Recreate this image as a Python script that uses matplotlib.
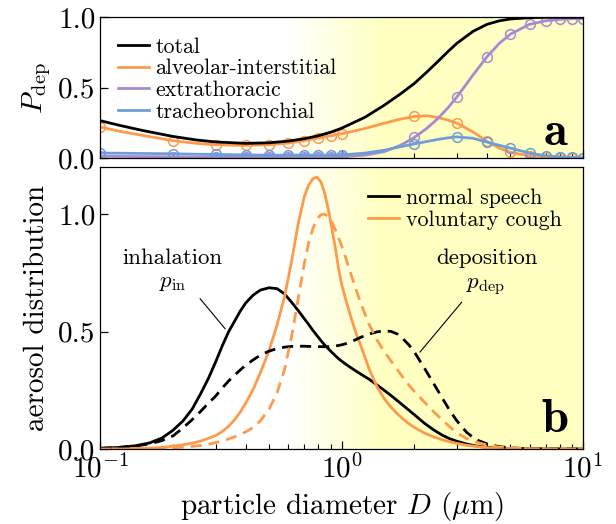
import numpy as np
import matplotlib
matplotlib.use("Agg")
import matplotlib.pyplot as plt
from matplotlib.lines import Line2D

plt.rcParams['font.family'] = ['cmr10', 'DejaVu Serif']
plt.rcParams['mathtext.fontset'] = 'cm'
plt.rcParams['axes.formatter.use_mathtext'] = True
plt.rcParams['axes.unicode_minus'] = False

# =========================
# Dados
# =========================

# deposition probability per region (top panel)
d_dep = [0.1, 0.12, 0.15, 0.2, 0.25, 0.3, 0.4, 0.5, 0.6, 0.7, 0.8, 0.9, 1.0,
         1.25, 1.5, 1.75, 2.0, 2.25, 2.5, 2.75, 3.0, 3.5, 4.0, 4.5, 5.0, 6.0,
         7.0, 8.0, 9.0, 10.0]
d_marcas = [0.1, 0.2, 0.3, 0.4, 0.5, 0.6, 0.7, 0.8, 0.9, 1.0, 2.0, 3.0, 4.0,
            5.0, 6.0, 7.0, 8.0, 9.0, 10.0]

p_total = [0.265, 0.232, 0.195, 0.153, 0.128, 0.114, 0.104, 0.108, 0.12,
           0.137, 0.158, 0.183, 0.212, 0.29, 0.375, 0.455, 0.53, 0.61, 0.685,
           0.755, 0.815, 0.9, 0.95, 0.975, 0.988, 0.997, 1.0, 1.0, 1.0, 1.0]
p_alveolar = [0.22, 0.19, 0.16, 0.123, 0.104, 0.094, 0.089, 0.094, 0.106,
              0.123, 0.142, 0.158, 0.172, 0.21, 0.247, 0.276, 0.295, 0.3,
              0.288, 0.27, 0.248, 0.185, 0.118, 0.07, 0.04, 0.015, 0.006,
              0.003, 0.001, 0.0]
p_extra = [0.012, 0.011, 0.01, 0.008, 0.007, 0.007, 0.006, 0.006, 0.006,
           0.006, 0.006, 0.006, 0.009, 0.02, 0.045, 0.09, 0.146, 0.21, 0.28,
           0.355, 0.433, 0.59, 0.72, 0.815, 0.88, 0.95, 0.975, 0.985, 0.99,
           0.99]
p_traqueo = [0.035, 0.034, 0.032, 0.03, 0.027, 0.025, 0.022, 0.02, 0.02,
             0.02, 0.02, 0.02, 0.022, 0.035, 0.055, 0.08, 0.10, 0.117, 0.132,
             0.143, 0.15, 0.14, 0.113, 0.09, 0.07, 0.035, 0.015, 0.008,
             0.004, 0.002]

# size distributions (bottom panel)
d_dist = [0.1, 0.12, 0.14, 0.16, 0.18, 0.2, 0.22, 0.24, 0.26, 0.28, 0.3, 0.32,
          0.34, 0.36, 0.38, 0.4, 0.43, 0.46, 0.5, 0.54, 0.58, 0.62, 0.66, 0.7,
          0.73, 0.76, 0.79, 0.82, 0.85, 0.88, 0.91, 0.94, 0.97, 1.0, 1.05,
          1.1, 1.15, 1.2, 1.3, 1.4, 1.5, 1.6, 1.7, 1.8, 1.9, 2.0, 2.2, 2.4,
          2.6, 2.8, 3.0, 3.3, 3.6, 4.0, 4.5, 5.0, 6.0, 8.0, 10.0]

fala_in = [0.003, 0.007, 0.014, 0.026, 0.047, 0.08, 0.12, 0.17, 0.235, 0.3,
           0.37, 0.44, 0.5, 0.545, 0.588, 0.622, 0.656, 0.677, 0.687, 0.683,
           0.66, 0.625, 0.59, 0.555, 0.53, 0.505, 0.483, 0.462, 0.443, 0.427,
           0.412, 0.398, 0.385, 0.374, 0.358, 0.344, 0.331, 0.319, 0.297,
           0.273, 0.25, 0.228, 0.206, 0.185, 0.165, 0.146, 0.11, 0.082, 0.06,
           0.044, 0.033, 0.021, 0.013, 0.007, 0.003, 0.002, 0.0005, 0.0, 0.0]
fala_dep = [0.003, 0.007, 0.013, 0.022, 0.036, 0.056, 0.09, 0.125, 0.16,
            0.195, 0.225, 0.26, 0.29, 0.315, 0.337, 0.357, 0.38, 0.4, 0.417,
            0.428, 0.434, 0.437, 0.438, 0.438, 0.437, 0.437, 0.436, 0.436,
            0.436, 0.436, 0.437, 0.439, 0.441, 0.444, 0.45, 0.458, 0.467,
            0.476, 0.49, 0.499, 0.503, 0.501, 0.49, 0.468, 0.443, 0.413,
            0.345, 0.28, 0.22, 0.165, 0.12, 0.07, 0.04, 0.022, 0.01, 0.005,
            0.001, 0.0, 0.0]
tosse_in = [0.0, 0.001, 0.002, 0.004, 0.007, 0.012, 0.018, 0.025, 0.034,
            0.045, 0.057, 0.075, 0.097, 0.125, 0.158, 0.195, 0.255, 0.325,
            0.42, 0.53, 0.65, 0.8, 0.96, 1.075, 1.125, 1.152, 1.158, 1.138,
            1.09, 1.02, 0.94, 0.86, 0.77, 0.7, 0.62, 0.55, 0.49, 0.44, 0.34,
            0.265, 0.215, 0.178, 0.15, 0.127, 0.107, 0.092, 0.068, 0.052,
            0.04, 0.031, 0.024, 0.016, 0.011, 0.006, 0.003, 0.002, 0.001,
            0.0, 0.0]
tosse_dep = [0.0, 0.0, 0.001, 0.002, 0.003, 0.005, 0.008, 0.011, 0.015, 0.02,
             0.027, 0.035, 0.043, 0.052, 0.062, 0.073, 0.092, 0.12, 0.17,
             0.24, 0.34, 0.48, 0.64, 0.79, 0.88, 0.94, 0.98, 0.998, 1.0, 0.99,
             0.968, 0.935, 0.9, 0.865, 0.8, 0.735, 0.675, 0.62, 0.53, 0.465,
             0.415, 0.375, 0.338, 0.303, 0.272, 0.245, 0.2, 0.16, 0.125,
             0.095, 0.068, 0.045, 0.03, 0.017, 0.008, 0.004, 0.001, 0.0, 0.0]

PRETO = 'black'
LARANJA = '#ff9a4c'
ROXO = '#a98ad2'
AZUL = '#6d9fd6'
AMARELO = (1.0, 1.0, 0.76)


def fundo_amarelo(ax):
    # fade from white to yellow between ~0.6 and ~1.5 um
    frac = np.linspace(0, 1, 600)
    f0 = (np.log10(0.6) + 1) / 2
    f1 = (np.log10(1.5) + 1) / 2
    alpha = np.clip((frac - f0) / (f1 - f0), 0, 1)
    img = np.ones((1, frac.size, 4))
    img[0, :, 0] = AMARELO[0]
    img[0, :, 1] = AMARELO[1]
    img[0, :, 2] = AMARELO[2]
    img[0, :, 3] = alpha
    ax.imshow(img, extent=(0, 1, 0, 1), transform=ax.transAxes,
              aspect='auto', zorder=0, interpolation='bilinear')


def estilo_eixo(ax):
    ax.set_xscale('log')
    ax.set_xlim(0.1, 10)
    ax.tick_params(which='both', direction='in', top=False, right=False,
                   labelsize=21)
    ax.tick_params(which='major', length=6, width=0.9)
    ax.tick_params(which='minor', length=3.3, width=0.8)
    for s in ax.spines.values():
        s.set_linewidth(0.9)


def legenda(ax, cores, nomes, ancora):
    alcas = [Line2D([], [], color=c, lw=2.0) for c in cores]
    ax.legend(alcas, nomes, loc='upper left', bbox_to_anchor=ancora,
              frameon=False, fontsize=15.8, handlelength=1.4,
              handletextpad=0.3, labelspacing=0.1, borderpad=0,
              borderaxespad=0)


fig = plt.figure(figsize=(6.16, 5.24), dpi=100)

# =========================
# Painel a
# =========================
ax1 = fig.add_axes([0.163, 0.6985, 0.7835, 0.2685])
fundo_amarelo(ax1)
estilo_eixo(ax1)

marcados = [d_dep.index(d) for d in d_marcas]
kw = dict(lw=2.0, marker='o', markevery=marcados, markersize=7,
          markerfacecolor='none', markeredgewidth=1.1)
ax1.plot(d_dep, p_total, color=PRETO, lw=2.0, zorder=5)
ax1.plot(d_dep, p_alveolar, color=LARANJA, **kw)
ax1.plot(d_dep, p_extra, color=ROXO, **kw)
ax1.plot(d_dep, p_traqueo, color=AZUL, **kw)

ax1.set_xlim(0.1, 10)
ax1.set_ylim(0, 1)
ax1.set_yticks([0, 0.5, 1.0])
ax1.set_yticklabels(['0.0', '0.5', '1.0'])
ax1.tick_params(labelbottom=False)
ax1.set_ylabel(r'$P_{\rm dep}$', fontsize=21, labelpad=4)

legenda(ax1, [PRETO, LARANJA, ROXO, AZUL],
        ['total', 'alveolar-interstitial', 'extrathoracic',
         'tracheobronchial'], (0.037, 0.86))
ax1.text(0.943, 0.092, 'a', transform=ax1.transAxes, ha='center',
         va='baseline', fontsize=35, family='cmb10')

# =========================
# Painel b
# =========================
ax2 = fig.add_axes([0.163, 0.1431, 0.7835, 0.5376])
fundo_amarelo(ax2)
estilo_eixo(ax2)

ax2.plot(d_dist, fala_in, color=PRETO, lw=2.0)
ax2.plot(d_dist, tosse_in, color=LARANJA, lw=2.0)
ax2.plot(d_dist, fala_dep, color=PRETO, lw=2.0, dashes=(4, 2.5))
ax2.plot(d_dist, tosse_dep, color=LARANJA, lw=2.0, dashes=(4, 2.5))

ax2.set_xlim(0.1, 10)
ax2.set_ylim(0, 1.2)
ax2.set_yticks([0, 0.5, 1.0])
ax2.set_yticklabels(['0.0', '0.5', '1.0'])
ax2.set_ylabel('aerosol distribution', fontsize=21, labelpad=6)
ax2.set_xlabel(r'particle diameter $D$ ($\mu$m)', fontsize=21, labelpad=5)

legenda(ax2, [PRETO, LARANJA], ['normal speech', 'voluntary cough'],
        (0.555, 0.925))

ax2.text(0.199, 0.789, 'inhalation', ha='center', va='baseline',
         fontsize=16.5)
ax2.text(0.199, 0.689, r'$p_{\rm in}$', ha='center', va='baseline',
         fontsize=16.5)
ax2.plot([0.259, 0.3286], [0.64, 0.5125], color='black', lw=0.8)

ax2.text(3.99, 0.789, 'deposition', ha='center', va='baseline',
         fontsize=16.5)
ax2.text(3.95, 0.682, r'$p_{\rm dep}$', ha='center', va='baseline',
         fontsize=16.5)
ax2.plot([3.14, 2.11], [0.625, 0.413], color='black', lw=0.8)

ax2.text(0.942, 0.0603, 'b', transform=ax2.transAxes, ha='center',
         va='baseline', fontsize=35, family='cmb10')

fig.savefig('out.png', dpi=100)
